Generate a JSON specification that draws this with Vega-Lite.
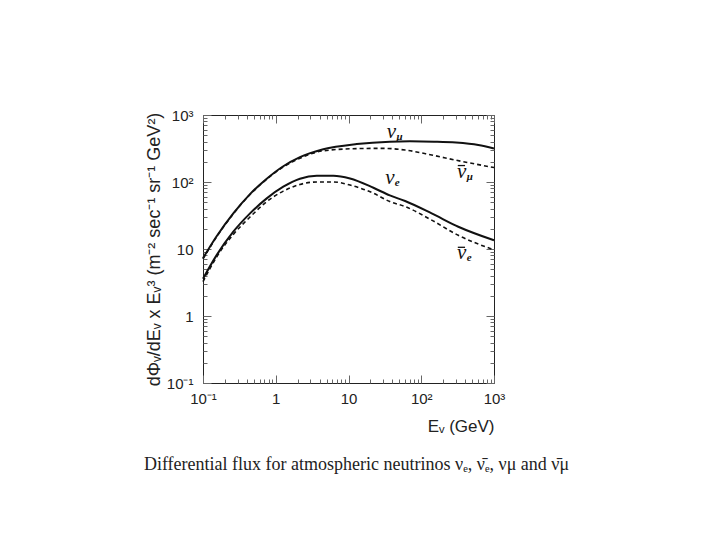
{
  "$schema": "https://vega.github.io/schema/vega-lite/v6.json",
  "width": 291,
  "height": 268,
  "autosize": "none",
  "padding": {"left": 203, "top": 115, "right": 226, "bottom": 157},
  "background": "white",
  "config": {
    "view": {"stroke": "#222", "strokeWidth": 1},
    "axis": {"domain": false, "grid": false, "labelFont": "Liberation Sans", "labelFontSize": 15, "labelColor": "#222", "tickColor": "#666", "titleFont": "Liberation Sans", "titleFontWeight": "normal", "titleFontSize": 17, "titleColor": "#222"}
  },
  "title": {"text": "Differential flux for atmospheric neutrinos νₑ, ν̄ₑ, νμ and ν̄μ", "orient": "bottom", "font": "Liberation Serif", "fontSize": 18, "fontWeight": "normal", "color": "#222", "offset": 22, "dx": 8},
  "resolve": {"axis": {"x": "independent", "y": "independent"}},
  "datasets": {
    "nu": [
      {"series": "nu_mu", "E": 0.1, "flux": 7.3},
      {"series": "nu_mu", "E": 0.154, "flux": 15.5},
      {"series": "nu_mu", "E": 0.261, "flux": 34},
      {"series": "nu_mu", "E": 0.443, "flux": 66},
      {"series": "nu_mu", "E": 0.752, "flux": 112},
      {"series": "nu_mu", "E": 1.27, "flux": 172},
      {"series": "nu_mu", "E": 2.15, "flux": 235},
      {"series": "nu_mu", "E": 4.5, "flux": 308},
      {"series": "nu_mu", "E": 13, "flux": 369},
      {"series": "nu_mu", "E": 37, "flux": 400},
      {"series": "nu_mu", "E": 70, "flux": 405},
      {"series": "nu_mu", "E": 150, "flux": 400},
      {"series": "nu_mu", "E": 300, "flux": 388},
      {"series": "nu_mu", "E": 608, "flux": 357},
      {"series": "nu_mu", "E": 1000, "flux": 316},
      {"series": "nu_e", "E": 0.1, "flux": 3.6},
      {"series": "nu_e", "E": 0.154, "flux": 8.1},
      {"series": "nu_e", "E": 0.261, "flux": 18.1},
      {"series": "nu_e", "E": 0.443, "flux": 34},
      {"series": "nu_e", "E": 0.752, "flux": 57},
      {"series": "nu_e", "E": 1.27, "flux": 85},
      {"series": "nu_e", "E": 2.15, "flux": 112},
      {"series": "nu_e", "E": 3.66, "flux": 124},
      {"series": "nu_e", "E": 6.2, "flux": 124},
      {"series": "nu_e", "E": 10.5, "flux": 113},
      {"series": "nu_e", "E": 22, "flux": 82},
      {"series": "nu_e", "E": 37, "flux": 63},
      {"series": "nu_e", "E": 60, "flux": 52},
      {"series": "nu_e", "E": 139, "flux": 34},
      {"series": "nu_e", "E": 323, "flux": 21.5},
      {"series": "nu_e", "E": 1000, "flux": 13.5}
    ],
    "nubar": [
      {"series": "nu_mu_bar", "E": 0.1, "flux": 7.1},
      {"series": "nu_mu_bar", "E": 0.154, "flux": 15.2},
      {"series": "nu_mu_bar", "E": 0.261, "flux": 33.5},
      {"series": "nu_mu_bar", "E": 0.443, "flux": 65},
      {"series": "nu_mu_bar", "E": 0.752, "flux": 110},
      {"series": "nu_mu_bar", "E": 1.27, "flux": 168},
      {"series": "nu_mu_bar", "E": 2.15, "flux": 226},
      {"series": "nu_mu_bar", "E": 4.5, "flux": 292},
      {"series": "nu_mu_bar", "E": 13, "flux": 315},
      {"series": "nu_mu_bar", "E": 30, "flux": 318},
      {"series": "nu_mu_bar", "E": 60, "flux": 300},
      {"series": "nu_mu_bar", "E": 139, "flux": 253},
      {"series": "nu_mu_bar", "E": 291, "flux": 213},
      {"series": "nu_mu_bar", "E": 1000, "flux": 164},
      {"series": "nu_e_bar", "E": 0.1, "flux": 3.25},
      {"series": "nu_e_bar", "E": 0.154, "flux": 7.6},
      {"series": "nu_e_bar", "E": 0.261, "flux": 16.5},
      {"series": "nu_e_bar", "E": 0.443, "flux": 30},
      {"series": "nu_e_bar", "E": 0.752, "flux": 51},
      {"series": "nu_e_bar", "E": 1.27, "flux": 73},
      {"series": "nu_e_bar", "E": 2.15, "flux": 92},
      {"series": "nu_e_bar", "E": 3.66, "flux": 100},
      {"series": "nu_e_bar", "E": 6.2, "flux": 100},
      {"series": "nu_e_bar", "E": 10.5, "flux": 90},
      {"series": "nu_e_bar", "E": 22, "flux": 68},
      {"series": "nu_e_bar", "E": 37, "flux": 51},
      {"series": "nu_e_bar", "E": 60, "flux": 43},
      {"series": "nu_e_bar", "E": 139, "flux": 27},
      {"series": "nu_e_bar", "E": 323, "flux": 16},
      {"series": "nu_e_bar", "E": 1000, "flux": 9.7}
    ],
    "labels": [
      {"E": 39, "flux": 563, "main": "ν", "sub": "μ"},
      {"E": 360, "flux": 143, "main": "ν", "sub": "μ"},
      {"E": 37, "flux": 114, "main": "ν", "sub": "e"},
      {"E": 360, "flux": 8.6, "main": "ν", "sub": "e"}
    ],
    "bars": [
      {"E1": 318, "E2": 400, "flux": 176},
      {"E1": 318, "E2": 400, "flux": 10.6}
    ]
  },
  "layer": [
    {
      "data": {"name": "nu"},
      "mark": {"type": "line", "color": "#111", "strokeWidth": 2, "interpolate": "monotone"},
      "encoding": {
        "x": {"field": "E", "type": "quantitative", "scale": {"type": "log", "domain": [0.1, 1000], "nice": false},
          "axis": {"orient": "bottom", "values": [0.1, 1, 10, 100, 1000], "labelExpr": "datum.value < 0.5 ? '10⁻¹' : datum.value < 5 ? '1' : datum.value < 50 ? '10' : datum.value < 500 ? '10²' : '10³'", "tickSize": -8, "labelPadding": 16, "labelFlush": false, "labelOverlap": false, "title": "Eᵥ (GeV)", "titleAnchor": "end", "titlePadding": 12}},
        "y": {"field": "flux", "type": "quantitative", "scale": {"type": "log", "domain": [0.1, 1000], "nice": false},
          "axis": {"orient": "left", "values": [0.1, 1, 10, 100, 1000], "labelExpr": "datum.value < 0.5 ? '10⁻¹' : datum.value < 5 ? '1' : datum.value < 50 ? '10' : datum.value < 500 ? '10²' : '10³'", "tickSize": -8, "labelPadding": 18, "labelFlush": false, "labelOverlap": false, "title": "dΦᵥ/dEᵥ x Eᵥ³ (m⁻² sec⁻¹ sr⁻¹ GeV²)", "titleFontSize": 18, "titlePadding": 3}},
        "detail": {"field": "series"}
      }
    },
    {
      "data": {"name": "nubar"},
      "mark": {"type": "line", "color": "#111", "strokeWidth": 1.6, "strokeDash": [4, 3], "interpolate": "monotone"},
      "encoding": {
        "x": {"field": "E", "type": "quantitative", "scale": {"type": "log", "domain": [0.1, 1000], "nice": false},
          "axis": {"orient": "bottom", "values": [0.2, 0.3, 0.4, 0.5, 0.6, 0.7, 0.8, 0.9, 2, 3, 4, 5, 6, 7, 8, 9, 20, 30, 40, 50, 60, 70, 80, 90, 200, 300, 400, 500, 600, 700, 800, 900], "labels": false, "tickSize": -4, "title": null}},
        "y": {"field": "flux", "type": "quantitative", "scale": {"type": "log", "domain": [0.1, 1000], "nice": false},
          "axis": {"orient": "left", "values": [0.2, 0.3, 0.4, 0.5, 0.6, 0.7, 0.8, 0.9, 2, 3, 4, 5, 6, 7, 8, 9, 20, 30, 40, 50, 60, 70, 80, 90, 200, 300, 400, 500, 600, 700, 800, 900], "labels": false, "tickSize": -4, "title": null}},
        "detail": {"field": "series"}
      }
    },
    {
      "data": {"name": "labels"},
      "mark": {"type": "text", "font": "Liberation Serif", "fontStyle": "italic", "fontSize": 21, "align": "center", "baseline": "middle", "color": "#111"},
      "encoding": {
        "x": {"field": "E", "type": "quantitative", "scale": {"type": "log", "domain": [0.1, 1000], "nice": false},
          "axis": {"orient": "top", "values": [0.2, 0.3, 0.4, 0.5, 0.6, 0.7, 0.8, 0.9, 2, 3, 4, 5, 6, 7, 8, 9, 20, 30, 40, 50, 60, 70, 80, 90, 200, 300, 400, 500, 600, 700, 800, 900], "labels": false, "tickSize": -4, "title": null}},
        "y": {"field": "flux", "type": "quantitative", "scale": {"type": "log", "domain": [0.1, 1000], "nice": false},
          "axis": {"orient": "right", "values": [0.2, 0.3, 0.4, 0.5, 0.6, 0.7, 0.8, 0.9, 2, 3, 4, 5, 6, 7, 8, 9, 20, 30, 40, 50, 60, 70, 80, 90, 200, 300, 400, 500, 600, 700, 800, 900], "labels": false, "tickSize": -4, "title": null}},
        "text": {"field": "main"}
      }
    },
    {
      "data": {"name": "labels"},
      "mark": {"type": "text", "font": "Liberation Serif", "fontStyle": "italic", "fontWeight": "bold", "fontSize": 11, "align": "left", "baseline": "middle", "dx": 5, "dy": 5, "color": "#111"},
      "encoding": {
        "x": {"field": "E", "type": "quantitative", "scale": {"type": "log", "domain": [0.1, 1000], "nice": false},
          "axis": {"orient": "top", "values": [0.1, 1, 10, 100, 1000], "labels": false, "tickSize": -8, "title": null}},
        "y": {"field": "flux", "type": "quantitative", "scale": {"type": "log", "domain": [0.1, 1000], "nice": false},
          "axis": {"orient": "right", "values": [0.1, 1, 10, 100, 1000], "labels": false, "tickSize": -8, "title": null}},
        "text": {"field": "sub"}
      }
    },
    {
      "data": {"name": "bars"},
      "mark": {"type": "rule", "color": "#111", "strokeWidth": 1.3},
      "encoding": {
        "x": {"field": "E1", "type": "quantitative", "scale": {"type": "log", "domain": [0.1, 1000], "nice": false}, "axis": null},
        "x2": {"field": "E2"},
        "y": {"field": "flux", "type": "quantitative", "scale": {"type": "log", "domain": [0.1, 1000], "nice": false}, "axis": null}
      }
    }
  ]
}
